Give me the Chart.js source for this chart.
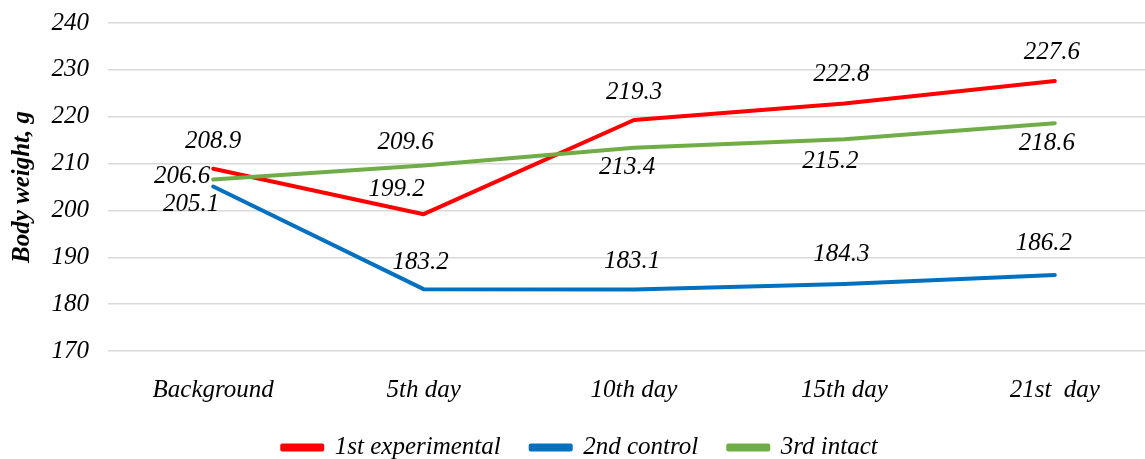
<!DOCTYPE html>
<html>
<head>
<meta charset="utf-8">
<script src="https://cdn.jsdelivr.net/npm/chart.js@4/dist/chart.umd.min.js"></script>
<style>
  html, body { margin: 0; padding: 0; background: #fff; overflow: hidden; }
  #wrap { position: relative; width: 1160px; height: 470px; }
</style>
</head>
<body>
<div id="wrap"><canvas id="chart"></canvas></div>
<script>
// Body weight of the animal groups over the observation period
const categories = ['Background', '5th day', '10th day', '15th day', '21st  day'];
const experimental = [208.9, 199.2, 219.3, 222.8, 227.6];
const control = [205.1, 183.2, 183.1, 184.3, 186.2];
const intact = [206.6, 209.6, 213.4, 215.2, 218.6];
const yTicks = [170, 180, 190, 200, 210, 220, 230, 240];

const SERIF = '"Liberation Serif", "Times New Roman", serif';
const FONT_SIZE = 25;

// Offsets (dx, dy) of each value label's centre from its point
const labelOffsets = [
  [[0, -27], [-27, -25], [0, -28], [-3, -29], [-3, -29]],
  [[-22, 18], [-3, -27], [-2, -28], [-3, -30], [-11, -32]],
  [[-31, -3], [-18, -23], [-7, 20], [-14, 22], [-8, 20]]
];

const valueLabels = {
  id: 'valueLabels',
  afterDatasetsDraw(chart) {
    const ctx = chart.ctx;
    ctx.save();
    ctx.font = 'italic ' + FONT_SIZE + 'px ' + SERIF;
    ctx.fillStyle = '#000';
    ctx.textAlign = 'center';
    ctx.textBaseline = 'middle';
    chart.data.datasets.forEach((ds, di) => {
      const meta = chart.getDatasetMeta(di);
      meta.data.forEach((pt, i) => {
        const off = labelOffsets[di][i];
        ctx.fillText(ds.data[i].toFixed(1), pt.x + off[0], pt.y + off[1]);
      });
    });
    ctx.restore();
  }
};

function series(label, data, color, order) {
  return {
    label, data, order,
    borderColor: color,
    backgroundColor: color,
    borderWidth: 4,
    borderCapStyle: 'round',
    borderJoinStyle: 'round',
    pointRadius: 0,
    pointHoverRadius: 0,
    tension: 0,
    fill: false
  };
}

new Chart(document.getElementById('chart'), {
  type: 'line',
  data: {
    labels: categories,
    datasets: [
      series('1st experimental', experimental, '#FF0000', 3),
      series('2nd control', control, '#0070C0', 2),
      series('3rd intact', intact, '#70AD47', 1)
    ]
  },
  options: {
    responsive: true,
    maintainAspectRatio: false,
    animation: false,
    layout: { padding: { top: 23, right: 0, left: 0, bottom: 0 } },
    plugins: {
      tooltip: { enabled: false },
      legend: {
        position: 'bottom',
        labels: {
          sort: (a, b) => a.datasetIndex - b.datasetIndex,
          boxWidth: 40,
          boxHeight: 4,
          padding: 30,
          color: '#000',
          font: { family: SERIF, size: FONT_SIZE, style: 'italic' }
        }
      }
    },
    scales: {
      x: {
        offset: true,
        grid: { display: false },
        border: { display: false },
        ticks: {
          color: '#000',
          padding: 16,
          maxRotation: 0,
          font: { family: SERIF, size: FONT_SIZE, style: 'italic' }
        },
        afterFit(scale) { scale.height = 54; }
      },
      y: {
        min: 170,
        max: 240,
        afterBuildTicks(scale) { scale.ticks = yTicks.map(v => ({ value: v })); },
        grid: { color: '#d9d9d9', lineWidth: 1.5, drawTicks: false },
        border: { display: false },
        ticks: {
          color: '#000',
          padding: 19,
          font: { family: SERIF, size: FONT_SIZE, style: 'italic' }
        },
        title: {
          display: true,
          text: 'Body weight, g',
          color: '#000',
          padding: { top: 8, bottom: 0 },
          font: { family: SERIF, size: FONT_SIZE, style: 'italic', weight: 'bold' }
        },
        afterFit(scale) {
          scale.width = 108;
          scale.paddingTop = 0;
          scale.paddingBottom = 0;
        }
      }
    }
  },
  plugins: [valueLabels]
});
</script>
</body>
</html>
